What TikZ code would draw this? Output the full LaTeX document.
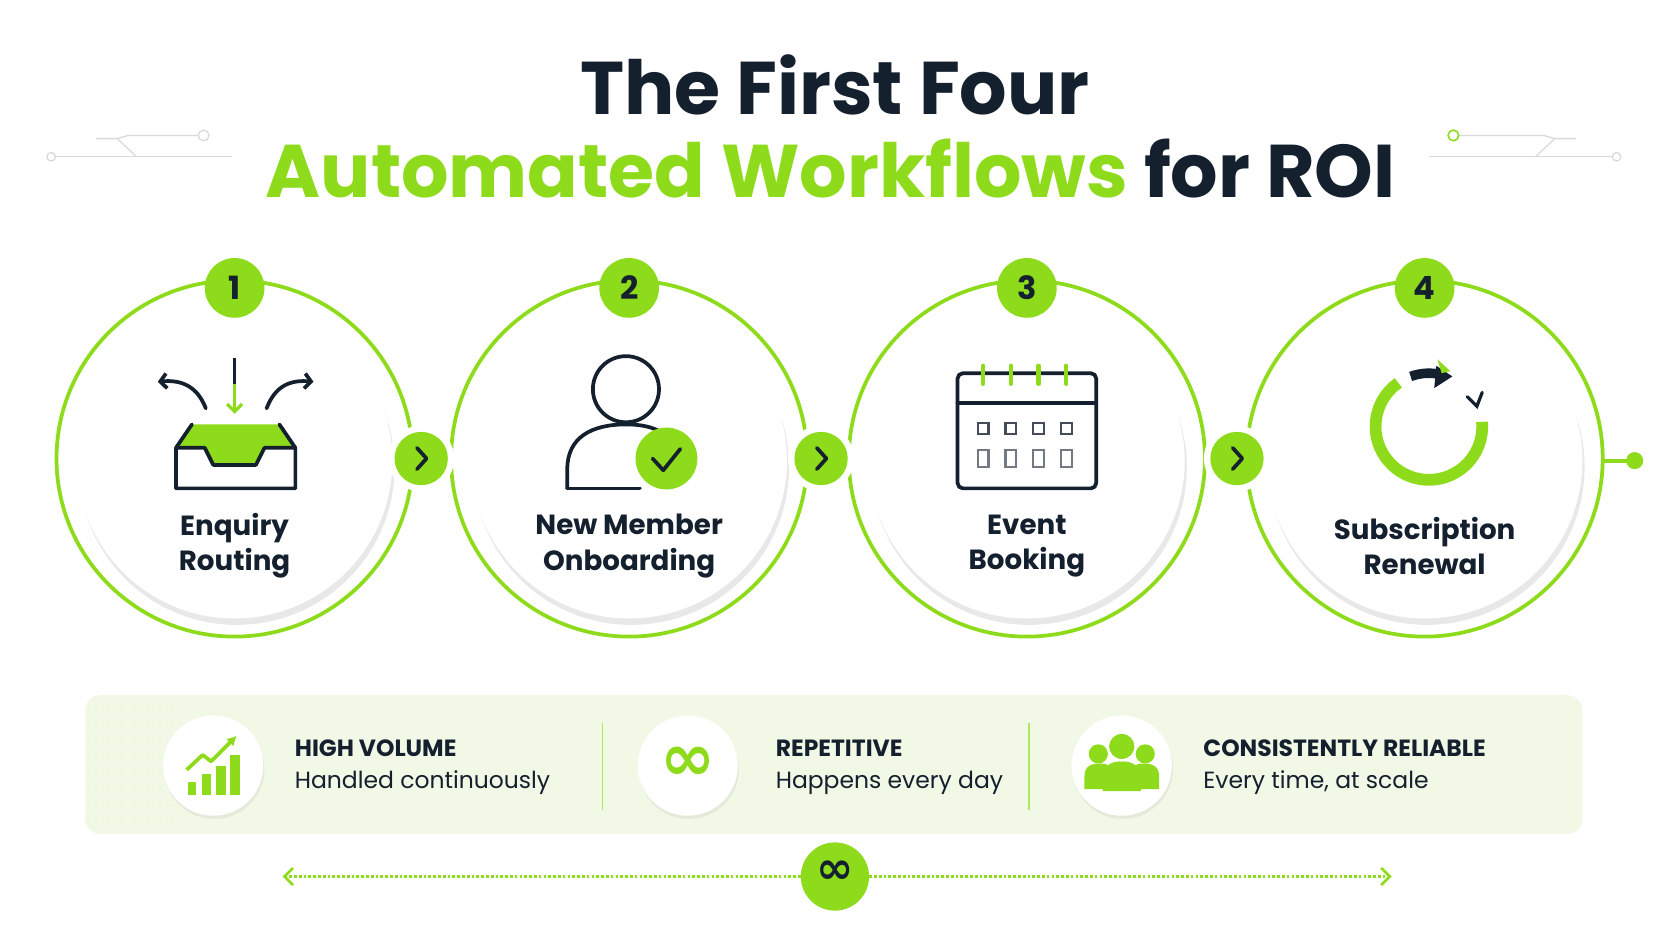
\documentclass[tikz,border=0pt]{standalone}
\usepackage{fontspec}
\setmainfont{Poppins}
\newfontfamily\dejavu{DejaVu Sans}
\usetikzlibrary{shadows,arrows.meta,calc}
\definecolor{lime}{HTML}{8EDB1C}
\definecolor{navy}{HTML}{14202E}
\definecolor{panel}{HTML}{F2F8E6}
\begin{document}
\begin{tikzpicture}[x=1pt,y=-1pt,
  ring/.style={draw=lime,line width=3.5pt},
  disk/.style={circle,fill=white,minimum size=296pt,inner sep=0pt,drop shadow={opacity=0.18,shadow xshift=2pt,shadow yshift=-6pt}},
  badge/.style={circle,fill=lime,minimum size=56pt,inner sep=0pt,font=\bfseries\fontsize{30}{30}\selectfont,text=navy},
  chev/.style={circle,fill=lime,minimum size=50pt,inner sep=0pt},
  lbl/.style={font=\bfseries\fontsize{26}{33}\selectfont,text=navy,align=center},
  ico/.style={draw=navy,line width=3.5pt,line cap=round,line join=round},
  icocirc/.style={circle,fill=white,minimum size=94pt,inner sep=0pt,drop shadow={opacity=0.12,shadow xshift=1pt,shadow yshift=-3pt}},
  head/.style={font=\bfseries\fontsize{22}{22}\selectfont,text=navy,anchor=west},
  sub/.style={font=\fontsize{22}{22}\selectfont,text=navy,anchor=west},
  deco/.style={draw=black!15,line width=1.2pt}]
\useasboundingbox (0,0) rectangle (1568,882);
\fill[white] (0,0) rectangle (1568,882);
% title
\node (t1) at (783,80) {\fontsize{70}{70}\selectfont\bfseries\color{navy}The First Four};
\node (t2) at (779,158) {\fontsize{70}{70}\selectfont\bfseries{\color{lime}Automated Workflows} \color{navy}for ROI};
% deco lines
\draw[deco] (50,147) -- (218,147);
\draw[deco] (90,130) -- (110,130) -- (128,147);
\draw[deco] (110,130) -- (120,127) -- (186,127);
\draw[deco,fill=white] (48,147) circle (4);
\draw[deco,fill=white] (191,127) circle (5);
\draw[deco] (1340,147) -- (1512,147);
\draw[deco] (1478,130) -- (1458,130) -- (1440,147);
\draw[deco] (1458,130) -- (1448,127) -- (1368,127);
\draw[deco,fill=white] (1516,147) circle (4);
\draw[draw=lime,line width=1.5pt,fill=white] (1363,127) circle (5);
% rings
\foreach \cx in {220,590,963,1336}{
  \draw[ring] (\cx,430) circle (167);
}
\foreach \cx/\n in {220/a,590/b,963/c,1336/d}{
  \node[disk] (d\n) at (\cx,432) {};
}
\draw[ring] (1503,432) -- (1533,432);
\node[circle,fill=lime,minimum size=16pt,inner sep=0pt] (enddot) at (1533,432) {};
% badges
\node[badge] (n1) at (220,270) {1};
\node[badge] (n2) at (590,270) {2};
\node[badge] (n3) at (963,270) {3};
\node[badge] (n4) at (1336,270) {4};
\foreach \x/\n in {395/a,770/b,1160/c}{
  \node[circle,fill=white,minimum size=62pt,inner sep=0pt] (g\n) at (\x,430) {};
  \node[chev] (c\n) at (\x,430) {};
  \draw[navy,line width=3.5pt,line cap=round,line join=round] (\x-4,420) -- (\x+5,430) -- (\x-4,440);
}
% labels
\node[lbl] (l1) at (220,512) {Enquiry\\Routing};
\node[lbl] (l2) at (590,512) {New Member\\Onboarding};
\node[lbl] (l3) at (963,512) {Event\\Booking};
\node[lbl] (l4) at (1336,512) {Subscription\\Renewal};
% icon 1 inbox
\fill[lime] (180,398) -- (262,398) -- (277,420) -- (248,420) -- (240,436) -- (200,436) -- (192,420) -- (165,420) -- cycle;
\draw[ico] (165,420) -- (180,398); \draw[ico] (277,420) -- (262,398);
\draw[ico] (165,420) -- (192,420) -- (200,436) -- (240,436) -- (248,420) -- (277,420) -- (277,458) -- (165,458) -- cycle;
\draw[navy,line width=2.5pt] (220,336) -- (220,362);
\draw[lime,line width=3pt,-{Straight Barb[length=7pt,width=14pt]}] (220,360) -- (220,388);
\draw[ico,-{Straight Barb[length=6pt,width=14pt]}] (193,383) .. controls (185,362) and (170,356) .. (148,358);
\draw[ico,-{Straight Barb[length=6pt,width=14pt]}] (250,383) .. controls (258,362) and (272,356) .. (294,358);
% icon 2 person
\draw[ico] (587,365) circle (31);
\draw[ico] (532,458) -- (532,440) .. controls (532,410) and (555,398) .. (587,398) .. controls (605,398) and (618,402) .. (626,410);
\draw[ico] (532,458) -- (600,458);
\node[circle,fill=lime,minimum size=58pt,inner sep=0pt] (chk) at (625,430) {};
\draw[ico] (612,430) -- (622,441) -- (638,421);
% icon 3 calendar
\draw[ico,rounded corners=5pt] (898,350) rectangle (1028,458);
\draw[ico] (898,378) -- (1028,378);
\foreach \x in {922,948,974,1000}{
  \draw[lime,line width=4pt,line cap=round] (\x,343) -- (\x,360);
  \draw[navy!80,line width=2pt] (\x-5,397) rectangle (\x+5,407);
  \draw[navy!60,line width=2pt] (\x-5,422) rectangle (\x+5,438);
}
% icon 4 renewal
\coordinate (rc) at (1340,400);
\draw[lime,line width=11pt] ($(rc)+(235:50)$) arc (235:-5:50);
\draw[navy,line width=9pt] ($(rc)+(250:50)$) arc (250:285:50);
\fill[navy] (1347,343) -- (1362,353) -- (1345,364) -- cycle;
\fill[lime] (1348,337) -- (1360,348) -- (1352,350) -- cycle;
\draw[navy,line width=3pt,line cap=round] (1376,372) -- (1385,381) -- (1390,368);
% bottom panel
\fill[panel,rounded corners=14pt] (80,652) rectangle (1484,782);
\foreach \x in {90,102,...,170}{\foreach \y in {665,680,...,770}{\fill[lime!25] (\x,\y) circle (1.2);}}
\draw[lime!70,line width=1.2pt] (565,678) -- (565,760);
\draw[lime!70,line width=1.2pt] (965,678) -- (965,760);
\node[icocirc] (i1) at (200,718) {};
\node[icocirc] (i2) at (645,718) {};
\node[icocirc] (i3) at (1052,718) {};
% chart
\fill[lime] (176,733) rectangle (184,746);
\fill[lime] (189,726) rectangle (198,746);
\fill[lime] (203,718) rectangle (212,746);
\fill[lime] (216,708) rectangle (225,746);
\draw[lime,line width=3.5pt,line join=round,-{Latex[length=9pt,width=10pt]}] (175,722) -- (190,708) -- (198,714) -- (222,690);
% infinity
\node[text=lime] (inf1) at (645,716) {\dejavu\bfseries\fontsize{62}{62}\selectfont ∞};
% people
\fill[lime] (1052,700) circle (12);
\fill[lime] (1030,707) circle (9);
\fill[lime] (1074,707) circle (9);
\fill[lime] (1017,740) -- (1017,728) .. controls (1017,718) and (1024,716) .. (1032,716) .. controls (1040,716) and (1044,720) .. (1044,728) -- (1044,740) -- cycle;
\fill[lime] (1087,740) -- (1087,728) .. controls (1087,718) and (1080,716) .. (1072,716) .. controls (1064,716) and (1060,720) .. (1060,728) -- (1060,740) -- cycle;
\fill[lime] (1034,742) -- (1034,730) .. controls (1034,718) and (1042,714) .. (1052,714) .. controls (1062,714) and (1070,718) .. (1070,730) -- (1070,742) -- cycle;
\draw[white,line width=2pt] (1052,700) circle (13);
% texts
\node[head] (h1) at (273,702) {HIGH VOLUME};
\node[sub] (s1) at (273,734) {Handled continuously};
\node[head] (h2) at (724,702) {REPETITIVE};
\node[sub] (s2) at (724,734) {Happens every day};
\node[head] (h3) at (1125,702) {CONSISTENTLY RELIABLE};
\node[sub] (s3) at (1125,734) {Every time, at scale};
% bottom arrow
\node[circle,fill=lime,minimum size=64pt,inner sep=0pt] (binf) at (783,822) {};
\node[text=navy] at (783,818) {\dejavu\bfseries\fontsize{42}{42}\selectfont ∞};
\coordinate (al) at (265,822);
\coordinate (ar) at (1305,822);
\draw[lime,line width=2.5pt,dotted,-{Straight Barb[length=8pt,width=16pt]}] (binf.west) -- (al);
\draw[lime,line width=2.5pt,dotted,-{Straight Barb[length=8pt,width=16pt]}] (binf.east) -- (ar);
\end{tikzpicture}
\end{document}
